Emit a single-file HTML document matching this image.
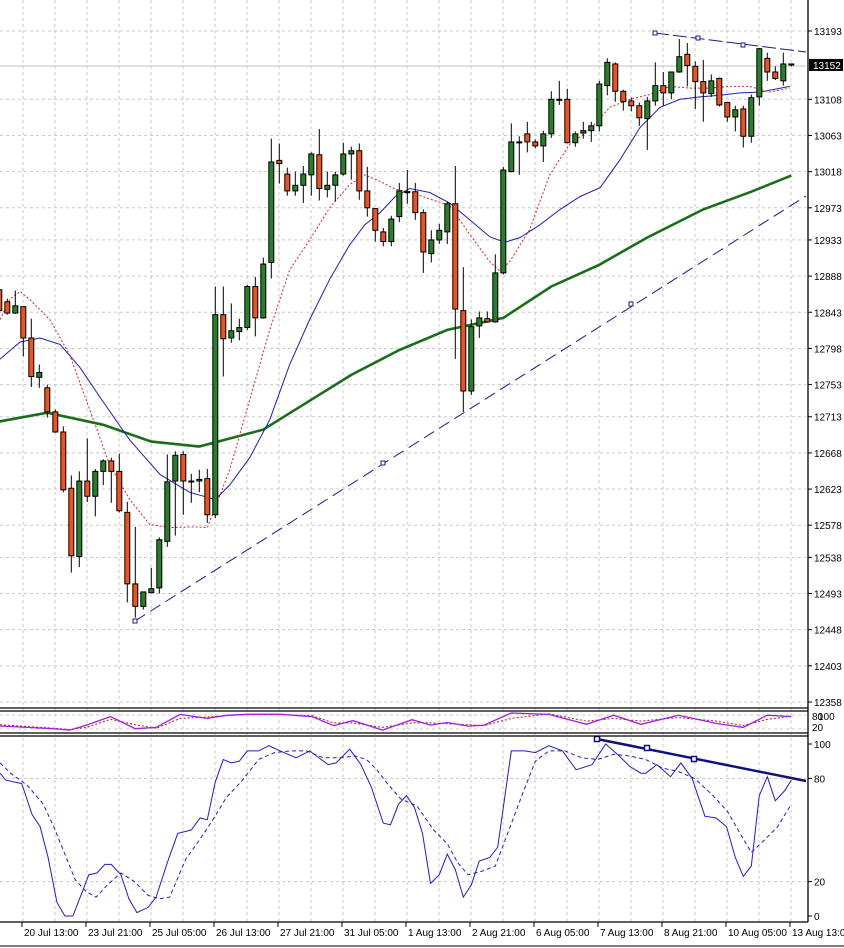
<!DOCTYPE html>
<html><head><meta charset="utf-8">
<style>
html,body{margin:0;padding:0;background:#fff;}
svg{display:block;font-family:"Liberation Sans",sans-serif;}
</style></head>
<body>
<svg id="chart" width="844" height="948" viewBox="0 0 844 948" xmlns="http://www.w3.org/2000/svg">
<rect width="844" height="948" fill="#fff"/>
<g id="grid"></g>
<g id="mas"></g>
<g id="candles"></g>
<g id="ind1"></g>
<g id="stoch"></g>
<g id="frame"></g>
<g id="axes"></g>
</svg>
<script>
const opens=[12871,12856,12842,12850,12811,12762,12749,12719,12694,12624,12539,12633,12614,12645,12658,12645,12594,12505,12477,12494,12500,12558,12633,12666,12633,12633,12636,12591,12840,12811,12819,12824,12875,12836,12905,13032,13015,12994,13001,13014,13039,12996,13001,13015,13040,13044,12994,12972,12943,12931,12962,12993,12993,12967,12916,12933,12943,12978,12845,12745,12826,12835,12831,12892,13018,13055,13065,13055,13050,13065,13108,13108,13054,13066,13069,13075,13125,13152,13118,13106,13100,13084,13106,13125,13116,13142,13164,13149,13130,13115,13134,13104,13086,13096,13062,13111,13159,13142,13131,13152];
const highs=[12875,12860,12870,12850,12835,12778,12753,12722,12701,12640,12645,12686,12648,12660,12662,12667,12607,12576,12495,12525,12563,12666,12670,12670,12642,12647,12648,12875,12875,12854,12835,12877,12887,12911,13059,13053,13023,13018,13025,13042,13071,13018,13018,13054,13049,13053,13024,12972,12948,12963,13004,13020,13004,12971,12945,12953,12981,13025,12899,12834,12844,12844,12915,13024,13078,13062,13080,13058,13069,13118,13131,13121,13068,13080,13080,13131,13159,13154,13120,13110,13104,13111,13154,13142,13142,13183,13178,13155,13157,13139,13135,13105,13100,13100,13114,13172,13166,13149,13166,13152];
const lows=[12842,12840,12841,12788,12750,12749,12712,12693,12619,12519,12526,12607,12589,12628,12606,12594,12482,12463,12473,12494,12493,12551,12565,12591,12606,12619,12581,12587,12763,12805,12808,12821,12813,12835,12885,13003,12988,12988,12979,12988,12982,12986,12981,13013,13008,12983,12962,12931,12925,12925,12955,12978,12958,12892,12905,12928,12928,12785,12719,12740,12811,12830,12830,12890,13017,13014,13042,13047,13030,13060,13101,13053,13049,13059,13055,13068,13113,13105,13094,13093,13075,13045,13100,13100,13108,13141,13124,13096,13080,13111,13099,13080,13068,13048,13054,13100,13131,13132,13125,13149];
const closes=[12845,12842,12851,12811,12763,12768,12719,12694,12622,12540,12633,12614,12645,12658,12645,12596,12505,12477,12495,12499,12560,12632,12665,12633,12632,12635,12591,12840,12810,12820,12824,12875,12836,12903,13030,13028,12994,13001,13015,13040,12997,13001,13014,13040,13044,12994,12973,12945,12931,12959,12994,12993,12967,12918,12933,12945,12978,12847,12745,12825,12836,12831,12892,13020,13055,13055,13055,13050,13065,13108,13108,13054,13065,13069,13075,13127,13154,13118,13105,13100,13085,13106,13125,13116,13142,13161,13150,13130,13116,13131,13101,13086,13095,13062,13110,13171,13142,13134,13152,13152];
const priceTicks=[13193,13108,13063,13018,12973,12933,12888,12843,12798,12753,12713,12668,12623,12578,12538,12493,12448,12403,12358];
const lastPrice=13152;
const dateLabels=["00","20 Jul 13:00","23 Jul 21:00","25 Jul 05:00","26 Jul 13:00","27 Jul 21:00","31 Jul 05:00","1 Aug 13:00","2 Aug 21:00","6 Aug 05:00","7 Aug 13:00","8 Aug 21:00","10 Aug 05:00","13 Aug 13:00"];
const slowMaIdx=[-1,5,12,18,24,32,37,43,49,55,62,68,74,80,87,93,98];
const slowMa=[12707,12718,12703,12682,12676,12697,12728,12765,12796,12821,12836,12875,12902,12936,12971,12993,13013];
const midMaIdx=[-1,1.6,4.1,6.6,9.1,11.6,15.3,19.1,22.8,26,27.8,30.3,32.8,35.3,37.8,40.3,42.8,44.7,46.6,48.5,50.3,52.8,55.3,57.8,60.3,62.2,64.1,66.6,69.1,71.6,74.1,76.6,79.1,81.6,84.1,86.6,89.1,91.6,94.1,97.8];
const midMa=[12784,12806,12811,12803,12774,12737,12684,12641,12619,12610,12628,12662,12709,12778,12834,12884,12927,12952,12967,12987,12997,12992,12979,12958,12937,12930,12936,12952,12971,12987,12998,13033,13073,13098,13108,13111,13113,13116,13117,13124];
const fastMaIdx=[-0.9,0.3,1.6,2.8,5.3,7.8,10.3,12.8,15.3,17.8,20.3,23.5,25,26,27.8,30.3,32.8,35.3,37.8,40.3,42.8,44.7,46.6,48.5,50.3,52.8,55.3,57.8,60.3,61.6,62.8,65.3,67.8,70.3,72.8,75.3,77.8,80.3,82.8,85.3,87.8,90.3,92.8,95.3,97.8];
const fastMa=[12834,12859,12869,12859,12834,12790,12722,12653,12610,12579,12575,12576,12575,12600,12647,12734,12821,12896,12933,12973,13002,13014,13006,12996,12993,12984,12976,12940,12906,12894,12906,12946,13014,13052,13070,13098,13108,13114,13124,13122,13122,13124,13124,13117,13122];
const stochIdx=[-0.9,-0.2,1.8,3.1,4.1,5.1,6.2,7.2,8.2,10.2,11.2,12.2,13,14.2,15.2,16.2,17.6,18.6,20,21.3,23,24.1,25,26,27,28,29,30,31.4,32.7,34.1,36.1,37.8,40.1,41.1,42.8,44.2,45.5,47,47.9,48.9,49.9,50.9,51.9,52.9,54,55,56,57,58,59,60.3,61.3,63,64.7,66,67.7,69.4,71.1,73.1,74.8,76.5,77.8,79.2,79.8,81.2,82.9,84.2,85.6,87.2,88.6,89.9,91,92,93,94,95,96,97.2,98];
const stochK=[83,79,77,59,52,34,8,0,0,24,25,30,30,24,10,2,5,11,31,48,50,57,56,78,91,89,90,96,96,99,96,92,96,88,89,97,88,75,54,53,65,70,63,48,19,24,36,27,11,18,32,34,40,96,96,95,99,96,85,88,100,93,87,83,83,88,81,89,80,58,57,52,34,23,29,70,81,67,73,79];
const sigIdx=[-0.9,0.4,2.5,4.5,5.8,7.2,8.5,9.9,11.1,12.5,14.2,15.9,17.6,19,20.3,22.3,24,25.7,27.4,29.4,31.4,33.4,35.4,37.4,39.5,41.5,43.5,44.9,46.2,47.5,49.2,51.2,53.3,55,56.3,57.6,59.3,61,62.7,64.4,66,67.7,69.7,71.8,73.8,75.8,77.8,79.8,81.9,83.9,85.9,88,90,91.6,93,94.6,96.3,98];
const stochD=[89,83,76,65,52,36,21,14,11,18,25,20,12,10,11,33,44,56,69,79,91,95,96,96,92,92,93,91,85,77,68,64,50,42,31,24,26,29,50,71,90,96,96,92,91,94,93,91,86,84,80,71,61,48,37,44,52,65];
const oscIdx=[-0.9,2.5,5.8,7.8,9.9,12.9,16,18.6,21.6,25,27.4,30,34.1,38.1,40.8,43.2,46.9,50.6,52.9,55,57.6,59.6,63,67.7,72.4,75.8,79.2,83.9,88.6,92,95,98];
const oscMain=[28,20,13,5,33,80,13,20,92,70,87,93,93,80,30,58,5,63,33,47,27,33,100,92,37,88,37,87,42,20,88,80];
const oscSig=[35,25,15,8,20,65,35,15,70,78,85,92,92,85,45,45,20,45,45,40,35,30,70,95,55,70,55,75,55,30,65,82];

const NS='http://www.w3.org/2000/svg';
const X0=7.3, DX=8;
const bx=i=>X0+DX*i;
const py=p=>31+(13193-p)*0.8036;
const sy=v=>916-v*1.72;
const oy=v=>731-v*0.18;
function mk(tag,attrs,parent){const e=document.createElementNS(NS,tag);for(const k in attrs)e.setAttribute(k,attrs[k]);parent.appendChild(e);return e;}
const grid=document.getElementById('grid');
// vertical grid
for(let x=23;x<806;x+=32){
  const l=mk('line',{x1:x,x2:x,y1:0,y2:922,stroke:'#c8c8c8','stroke-dasharray':'3,3','stroke-width':1},grid);
  
  
}
priceTicks.forEach(p=>{
  const l=mk('line',{x1:0,x2:806,y1:py(p),y2:py(p),stroke:'#c8c8c8','stroke-dasharray':'3,3'},grid);
  
  
});
[20,80].forEach(v=>{mk('line',{x1:0,x2:806,y1:sy(v),y2:sy(v),stroke:'#c8c8c8','stroke-dasharray':'3,3'},grid);});
[715,729].forEach(y=>{mk('line',{x1:0,x2:806,y1:y,y2:y,stroke:'#c8c8c8','stroke-dasharray':'3,3'},grid);});
// current price line
const cp=mk('line',{x1:0,x2:806,y1:py(lastPrice)+2,y2:py(lastPrice)+2,stroke:'#c0c0c0'},grid);



function poly(idx,vals,yf,attrs,parent,name){
  const pts=idx.map((i,k)=>bx(i).toFixed(1)+','+yf(vals[k]).toFixed(1)).join(' ');
  const e=mk('polyline',Object.assign({points:pts,fill:'none'},attrs),parent);
  
  
  return e;
}
const mas=document.getElementById('mas');
poly(slowMaIdx,slowMa,py,{stroke:'#1a6e1a','stroke-width':2.6},mas,'slow-ma-line');
poly(midMaIdx,midMa,py,{stroke:'#1e1eb4','stroke-width':1},mas,'mid-ma-line');
poly(fastMaIdx,fastMa,py,{stroke:'#e02020','stroke-width':1,'stroke-dasharray':'2,2'},mas,'fast-ma-line');
// trendlines
const t1=mk('line',{x1:135,y1:621,x2:806,y2:196,stroke:'#1a1a8c','stroke-dasharray':'12,6'},mas);


const t2=mk('line',{x1:655,y1:33,x2:806,y2:52,stroke:'#1a1a8c','stroke-dasharray':'14,4'},mas);


[[135,621],[383,463],[631,304],[655,33],[698,38],[743,45]].forEach(p=>{
  const r=mk('rect',{x:p[0]-2,y:p[1]-2,width:4,height:4,fill:'#fff',stroke:'#1a1a8c'},mas);
  
  
});

const cg=document.getElementById('candles');
for(let i=0;i<opens.length;i++){
  const x=bx(i-1), o=opens[i], c=closes[i];
  const g=mk('g',{},cg);
  
  
  mk('line',{x1:x,x2:x,y1:py(highs[i]),y2:py(lows[i]),stroke:'#000'},g);
  const top=py(Math.max(o,c)), bot=py(Math.min(o,c));
  const h=Math.max(1,bot-top);
  mk('rect',{x:x-2.5,y:top,width:5,height:h,fill:c>o?'#2a7d2a':(c<o?'#ea5420':'#000'),stroke:'#000','stroke-width':1},g);
}

const ind1=document.getElementById('ind1');
poly(oscIdx,oscSig,oy,{stroke:'#c01010','stroke-width':1,'stroke-dasharray':'2,2'},ind1,'oscillator-signal-line');
poly(oscIdx,oscMain,oy,{stroke:'#a020e0','stroke-width':1.3},ind1,'oscillator-main-line');

const st=document.getElementById('stoch');
poly(sigIdx,stochD,sy,{stroke:'#1e1ec8','stroke-width':1,'stroke-dasharray':'4,3'},st,'stochastic-signal-line');
poly(stochIdx,stochK,sy,{stroke:'#1e1ec8','stroke-width':1},st,'stochastic-main-line');
const st3=mk('line',{x1:597,y1:739,x2:806,y2:781,stroke:'#101080','stroke-width':2.5},st);


[[597,739],[647,748],[694,759]].forEach(p=>{
  const r=mk('rect',{x:p[0]-2.5,y:p[1]-2.5,width:5,height:5,fill:'#fff',stroke:'#101080','stroke-width':1.5},st);
  
  
});

// frame
const fr=document.getElementById('frame');
mk('rect',{x:808,y:0,width:36,height:948,fill:'#fff'},fr);
mk('rect',{x:0,y:922,width:844,height:26,fill:'#fff'},fr);
mk('rect',{x:0,y:709,width:808,height:27,fill:'none'},fr);
[[0,808,708,708],[0,808,711,711],[0,808,733,733],[0,808,736,736],[0,808,922,922]].forEach(a=>mk('line',{x1:a[0],x2:a[1],y1:a[2],y2:a[3],stroke:'#000','stroke-width':1.3},fr));
mk('line',{x1:808,x2:808,y1:0,y2:922,stroke:'#000','stroke-width':1.3},fr);
mk('line',{x1:0,x2:844,y1:946,y2:946,stroke:'#000','stroke-width':1},fr);

const ax=document.getElementById('axes');
function txt(x,y,s,name,extra){
  const t=mk('text',Object.assign({x:x,y:y,'font-size':10,fill:'#000'},extra||{}),ax);
  t.textContent=s;
  
  
  return t;
}
priceTicks.forEach(p=>{
  mk('line',{x1:808,x2:812,y1:py(p),y2:py(p),stroke:'#000'},ax);
  txt(814,py(p)+4,String(p),'price-tick-label');
});
mk('rect',{x:809,y:py(lastPrice)-5,width:34,height:12,fill:'#000'},ax);
txt(813,py(lastPrice)+5,String(lastPrice),'current-price-label',{fill:'#fff'});
txt(812,720,'80','osc-level-label');txt(818,720,'100','osc-level-label');txt(812,731,'20','osc-level-label');
[[100,'100'],[80,'80'],[20,'20'],[0,'0']].forEach(a=>{
  mk('line',{x1:808,x2:812,y1:sy(a[0]),y2:sy(a[0]),stroke:'#000'},ax);
  txt(814,sy(a[0])+4,a[1],'stochastic-tick-label');
});
dateLabels.forEach((s,k)=>{
  const x=k===0?-19:22+64*(k-1);
  if(k>0) mk('line',{x1:x,x2:x,y1:922,y2:927,stroke:'#000'},ax);
  txt(x+2,936,s,'date-tick-label');
});
</script>
</body></html>
